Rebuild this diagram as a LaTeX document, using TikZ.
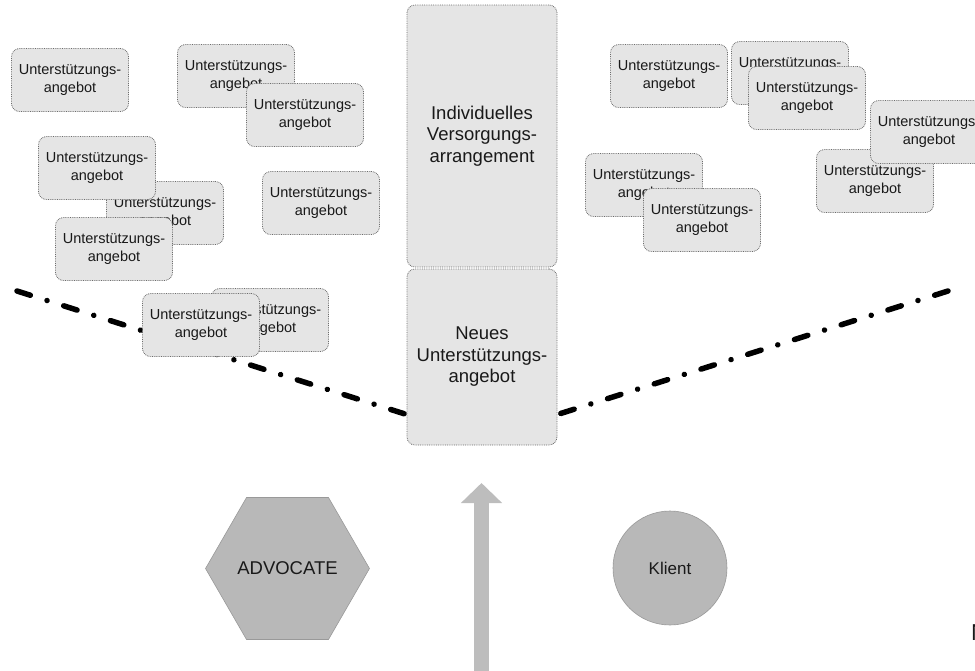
\documentclass[tikz,border=0pt]{standalone}
\usepackage{fontspec}
\setmainfont{Liberation Sans}
\usetikzlibrary{shapes.geometric,arrows.meta}
\definecolor{boxfill}{gray}{0.9}
\definecolor{boxline}{gray}{0.42}
\definecolor{hexfill}{gray}{0.72}
\definecolor{hexline}{gray}{0.6}
\definecolor{arrfill}{gray}{0.74}
\definecolor{txt}{gray}{0.1}
\tikzset{
  ubox/.style={draw=boxline, densely dotted, line width=0.8pt, fill=boxfill,
    rounded corners=8pt, minimum width=117pt, minimum height=63pt, align=center,
    font=\fontsize{14.5}{17.5}\selectfont, text=txt, inner sep=0pt},
  bigbox/.style={ubox, minimum width=150pt, font=\fontsize{18.5}{21.5}\selectfont},
  ddline/.style={line width=5.5pt, line cap=round,
    dash pattern=on 14pt off 17.5pt on 0.01pt off 17.5pt},
  shapetxt/.style={fill=hexfill, draw=hexline, line width=0.6pt, inner sep=0pt,
    text=txt, font=\fontsize{18.5}{21}\selectfont},
}
\begin{document}
\begin{tikzpicture}[x=1pt,y=-1pt]
\useasboundingbox (0,0) rectangle (975,670);
\clip (0,0) rectangle (975,670);

% dash-dot boundary lines
\coordinate (L1) at (17,291);
\coordinate (L2) at (405,414);
\coordinate (R1) at (948,291);
\coordinate (R2) at (559,414);
\draw[ddline] (L1) -- (L2);
\draw[ddline] (R1) -- (R2);

% central boxes
\node[bigbox, minimum height=262pt] (iva) at (482,136) {Individuelles\\Versorgungs-\\arrangement};
\node[bigbox, minimum height=176pt] (neu) at (482,357) {Neues\\Unterstützungs-\\angebot};

% left cluster
\node[ubox] (a) at (70,80) {Unterstützungs-\\angebot};
\node[ubox] (b) at (236,76) {Unterstützungs-\\angebot};
\node[ubox] (c) at (305,115) {Unterstützungs-\\angebot};
\node[ubox] (e) at (165,213) {Unterstützungs-\\angebot};
\node[ubox] (d) at (97,168) {Unterstützungs-\\angebot};
\node[ubox] (f) at (114,249) {Unterstützungs-\\angebot};
\node[ubox] (g) at (321,203) {Unterstützungs-\\angebot};
\node[ubox] (h) at (270,320) {Unterstützungs-\\angebot};
\node[ubox] (i) at (201,325) {Unterstützungs-\\angebot};

% right cluster
\node[ubox] (j) at (669,76) {Unterstützungs-\\angebot};
\node[ubox] (k) at (790,73) {Unterstützungs-\\angebot};
\node[ubox] (l) at (807,98) {Unterstützungs-\\angebot};
\node[ubox] (m) at (875,181) {Unterstützungs-\\angebot};
\node[ubox] (n) at (929,132) {Unterstützungs-\\angebot};
\node[ubox] (o) at (644,185) {Unterstützungs-\\angebot};
\node[ubox] (p) at (702,220) {Unterstützungs-\\angebot};

% bottom row
\node[shapetxt, regular polygon, regular polygon sides=6, minimum size=162pt] (adv) at (287.5,568.5) {ADVOCATE};
\node[shapetxt, circle, minimum size=114pt, font=\fontsize{17}{20}\selectfont] (kl) at (670,568) {Klient};

\coordinate (abot) at (481.5,672);
\coordinate (atop) at (481.5,483);
\draw[line width=15pt, arrfill, -{Triangle[width=40pt,length=20pt]}] (abot) -- (atop);

\node[anchor=base west, inner sep=0pt, font=\fontsize{23}{26}\selectfont, text=txt] (nn) at (971,640) {N};
\end{tikzpicture}
\end{document}
